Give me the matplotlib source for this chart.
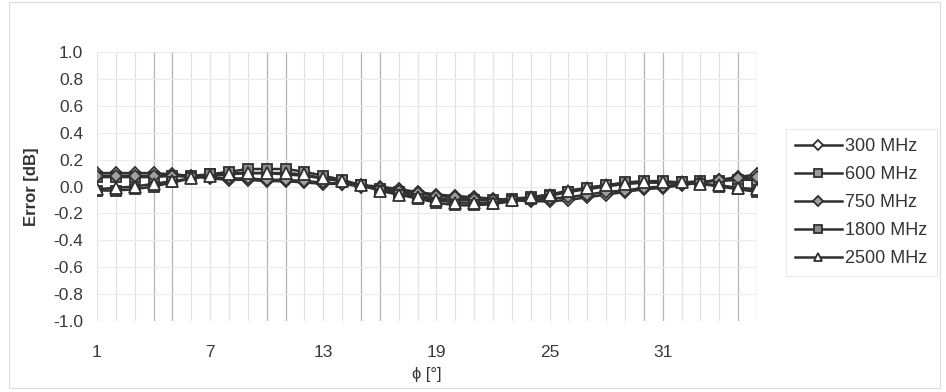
import matplotlib
matplotlib.use("Agg")
import matplotlib.pyplot as plt
from matplotlib.patches import Rectangle

plt.rcParams['font.family'] = ['Liberation Sans', 'DejaVu Sans']

# angle index 1..36
phi = list(range(1, 37))

err_300 = [0.10, 0.10, 0.10, 0.10, 0.09, 0.08, 0.06, 0.05, 0.05, 0.04, 0.04, 0.03,
           0.02, 0.02, 0.01, 0.00, -0.02, -0.04, -0.06, -0.07, -0.08, -0.09, -0.10, -0.11,
           -0.11, -0.10, -0.08, -0.06, -0.04, -0.02, -0.01, 0.01, 0.03, 0.05, 0.07, 0.09]
err_600 = [0.07, 0.07, 0.07, 0.07, 0.08, 0.08, 0.09, 0.10, 0.10, 0.10, 0.09, 0.08,
           0.06, 0.04, 0.01, -0.02, -0.04, -0.07, -0.09, -0.10, -0.10, -0.10, -0.09, -0.08,
           -0.06, -0.04, -0.02, 0.00, 0.02, 0.03, 0.03, 0.03, 0.04, 0.04, 0.05, 0.05]
err_750 = [0.08, 0.08, 0.08, 0.08, 0.08, 0.07, 0.07, 0.06, 0.06, 0.05, 0.05, 0.04,
           0.03, 0.02, 0.00, -0.01, -0.03, -0.05, -0.07, -0.08, -0.09, -0.10, -0.10, -0.10,
           -0.09, -0.08, -0.06, -0.04, -0.03, -0.01, 0.00, 0.02, 0.03, 0.05, 0.06, 0.07]
err_1800 = [-0.03, -0.03, -0.02, 0.00, 0.03, 0.06, 0.09, 0.11, 0.13, 0.13, 0.13, 0.11,
            0.08, 0.05, 0.01, -0.03, -0.06, -0.09, -0.12, -0.14, -0.14, -0.13, -0.11, -0.09,
            -0.07, -0.04, -0.01, 0.01, 0.03, 0.04, 0.04, 0.03, 0.02, 0.00, -0.02, -0.04]
err_2500 = [-0.02, -0.01, 0.00, 0.02, 0.04, 0.06, 0.08, 0.09, 0.10, 0.10, 0.10, 0.09,
            0.06, 0.04, 0.01, -0.03, -0.06, -0.08, -0.10, -0.12, -0.12, -0.12, -0.10, -0.08,
            -0.06, -0.03, -0.01, 0.01, 0.02, 0.03, 0.03, 0.03, 0.02, 0.01, -0.01, -0.02]

labels = ['300 MHz', '600 MHz', '750 MHz', '1800 MHz', '2500 MHz']
x_ticks = [1, 7, 13, 19, 25, 31]
y_ticks = [-1.0, -0.8, -0.6, -0.4, -0.2, 0.0, 0.2, 0.4, 0.6, 0.8, 1.0]
dark_grid = [4, 5, 10, 11, 15, 16, 30, 31, 35, 36]

fig = plt.figure(figsize=(9.46, 3.92), dpi=100)
ax = fig.add_axes([0.1025, 0.181, 0.6977, 0.6864])

# vertical grid at every angle, a few of them darker
for p in phi:
    c = '#b4b4b4' if p in dark_grid else '#e2e2e2'
    ax.axvline(p, color=c, lw=0.9, zorder=0)
for y in y_ticks:
    ax.axhline(y, color='#ececec', lw=0.8, zorder=0)

line_col = '#303030'
styles = [
    (err_300, 'D', 'white', 6.2),
    (err_600, 's', '#9a9a9a', 7.8),
    (err_750, 'D', '#a0a0a0', 6.2),
    (err_1800, 's', '#8c8c8c', 7.8),
    (err_2500, '^', 'white', 8),
]
for (vals, mk, fc, ms), lab in zip(styles, labels):
    ax.plot(phi, vals, color=line_col, lw=1.8, marker=mk, markersize=ms,
            markerfacecolor=fc, markeredgecolor=line_col, markeredgewidth=1.3,
            label=lab, zorder=3)

ax.set_xlim(1, 36)
ax.set_ylim(-1.0, 1.0)
ax.set_xticks(x_ticks)
ax.set_yticks(y_ticks)
ax.set_yticklabels([f'{v:.1f}' for v in y_ticks])
ax.tick_params(axis='both', length=0, labelsize=12.5, colors='#3a3a3a')
ax.tick_params(axis='x', pad=17)
ax.tick_params(axis='y', pad=10)
for s in ax.spines.values():
    s.set_visible(False)

ax.set_ylabel('Error [dB]', fontsize=12, fontweight='bold', color='#333333', labelpad=10)
ax.set_xlabel('ϕ [°]', fontsize=12, color='#333333', labelpad=5)

leg = ax.legend(loc='center left', bbox_to_anchor=(1.03, 0.44), frameon=True,
                fontsize=13, handlelength=2.6, labelspacing=0.6, borderpad=0.5,
                handletextpad=0.2, markerscale=0.8)
leg.get_frame().set_edgecolor('#e4e4e4')
leg.get_frame().set_linewidth(0.8)
leg.get_frame().set_boxstyle('square', pad=0)
for t in leg.get_texts():
    t.set_color('#333333')

# chart area border
fig.patches.append(Rectangle((0.009, 0.01), 0.985, 0.985, transform=fig.transFigure,
                             fill=False, edgecolor='#dcdcdc', lw=0.8))

fig.savefig('out.png', dpi=100)
